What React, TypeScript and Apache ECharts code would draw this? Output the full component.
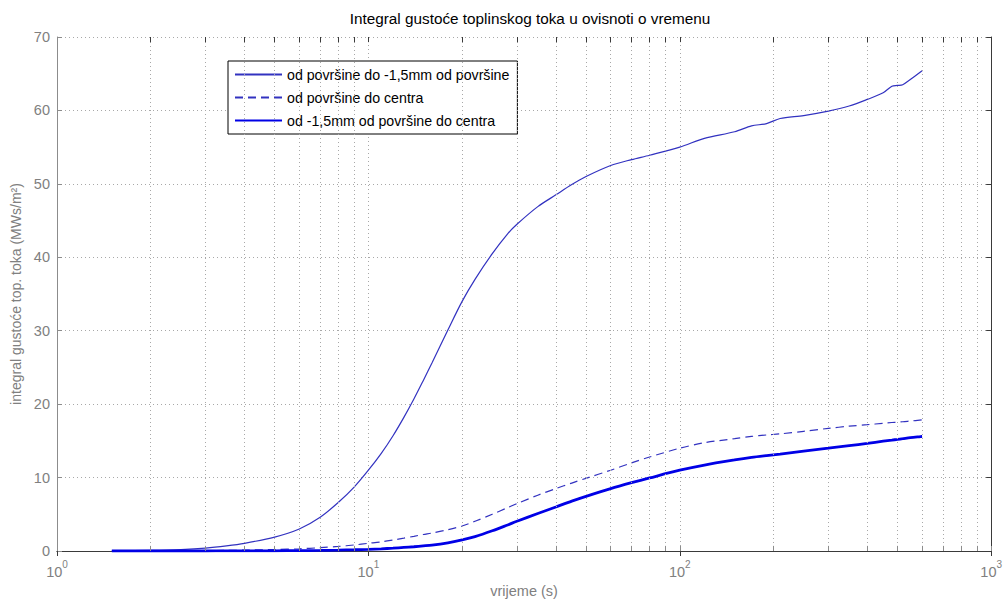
import React, { useEffect, useRef } from "react";
import * as echarts from "echarts";

const times = [1.5, 2, 2.5, 3, 3.5, 4, 5, 6, 7, 8, 9, 10, 11, 12, 13, 14, 15, 16, 18, 20, 22, 25, 28, 30, 35, 40, 45, 50, 60, 70, 80, 100, 120, 150, 170, 190, 210, 250, 300, 350, 400, 450, 480, 500, 520, 550, 600];

const surfaceTo15 = [0.0, 0.08, 0.2, 0.4, 0.7, 1.05, 1.9, 3.0, 4.6, 6.6, 8.7, 11.0, 13.3, 15.7, 18.2, 20.7, 23.2, 25.6, 30.1, 34.0, 37.0, 40.5, 43.2, 44.5, 46.9, 48.5, 49.9, 51.0, 52.5, 53.3, 53.9, 55.0, 56.2, 57.1, 57.9, 58.2, 58.9, 59.3, 59.9, 60.6, 61.5, 62.4, 63.3, 63.4, 63.5, 64.2, 65.4];

const surfaceToCenter = [0.0, 0.0, 0.02, 0.05, 0.08, 0.12, 0.2, 0.3, 0.45, 0.62, 0.82, 1.05, 1.25, 1.5, 1.75, 2.0, 2.25, 2.45, 2.9, 3.4, 4.05, 5.0, 5.9, 6.45, 7.6, 8.5, 9.25, 9.9, 11.0, 12.0, 12.8, 14.0, 14.75, 15.3, 15.6, 15.8, 15.95, 16.3, 16.7, 17.0, 17.2, 17.4, 17.5, 17.55, 17.6, 17.7, 17.85];

const from15ToCenter = [0.0, 0.0, 0.0, 0.0, 0.01, 0.02, 0.03, 0.05, 0.08, 0.12, 0.17, 0.23, 0.3, 0.38, 0.48, 0.58, 0.69, 0.8, 1.12, 1.5, 1.95, 2.75, 3.55, 4.05, 5.1, 6.0, 6.8, 7.45, 8.5, 9.3, 9.95, 11.0, 11.7, 12.4, 12.75, 13.0, 13.2, 13.6, 14.0, 14.35, 14.65, 14.95, 15.1, 15.2, 15.3, 15.45, 15.6];

const seriesNames = [
  "od površine do -1,5mm od površine",
  "od površine do centra",
  "od -1,5mm od površine do centra",
];

const minorGridX = [2, 3, 4, 5, 6, 7, 8, 9, 20, 30, 40, 50, 60, 70, 80, 90, 200, 300, 400, 500, 600, 700, 800, 900];
const majorX = [10, 100];
const xMin = 1;
const xMax = 1000;
const yMin = 0;
const yMax = 70;
const yStep = 10;
const tickLenY = 0.7;

const titleText = "Integral gustoće toplinskog toka u ovisnoti o vremenu";
const xName = "vrijeme (s)";
const yName = "integral gustoće top. toka (MWs/m²)";

const LABEL_GRAY = "#808080";
const AXIS_DARK = "#3a3a3a";
const AXIS_GRAY = "#8c8c8c";
const GRID_GRAY = "#a8a8a8";
const FONT = "Arial, Liberation Sans, sans-serif";

export default function App() {
  const ref = useRef<HTMLDivElement>(null);
  useEffect(() => {
    if (!ref.current) return;
    const chart = echarts.init(ref.current, undefined, { renderer: "svg" });
    const pair = (arr: number[]) => times.map((t, i) => [t, arr[i]]);
    const allTickX = [...minorGridX, ...majorX];
    const option: any = {
      animation: false,
      backgroundColor: "#fff",
      textStyle: { fontFamily: FONT },
      title: {
        text: titleText,
        left: 525,
        top: 6,
        textAlign: "center",
        textStyle: { fontSize: 15.3, fontWeight: "normal", color: "#000", fontFamily: FONT },
      },
      legend: {
        orient: "vertical",
        left: 228,
        top: 61,
        backgroundColor: "#fff",
        borderColor: "#000",
        borderWidth: 1,
        borderRadius: 0,
        padding: [5, 8, 5, 6],
        itemGap: 6,
        itemWidth: 47,
        itemHeight: 17,
        itemStyle: { opacity: 0 },
        textStyle: { fontSize: 14.2, color: "#000", lineHeight: 17 },
        data: seriesNames,
      },
      grid: { left: 57, right: 12, top: 37, bottom: 53, containLabel: false },
      xAxis: [
        {
          type: "log",
          logBase: 10,
          min: xMin,
          max: xMax,
          position: "bottom",
          name: xName,
          nameLocation: "middle",
          nameGap: 31,
          nameTextStyle: { fontSize: 14.5, color: LABEL_GRAY },
          axisLine: { show: true, lineStyle: { color: AXIS_GRAY, width: 1 } },
          axisTick: { show: true, inside: true, length: 5, lineStyle: { color: AXIS_GRAY } },
          axisLabel: {
            margin: 8,
            formatter: (v: number) => "{b|10}{e|" + Math.round(Math.log10(v)) + "}",
            rich: {
              b: { fontSize: 14.5, color: LABEL_GRAY, lineHeight: 20, verticalAlign: "bottom" },
              e: { fontSize: 10, color: LABEL_GRAY, lineHeight: 20, verticalAlign: "top" },
            },
          },
          splitLine: { show: true, lineStyle: { color: GRID_GRAY, type: [1, 3], width: 1 } },
        },
        {
          type: "log",
          logBase: 10,
          min: xMin,
          max: xMax,
          position: "top",
          axisLine: { show: true, lineStyle: { color: AXIS_DARK, width: 1 } },
          axisTick: { show: true, inside: true, length: 5, lineStyle: { color: AXIS_DARK } },
          axisLabel: { show: false },
          splitLine: { show: false },
        },
      ],
      yAxis: [
        {
          type: "value",
          min: yMin,
          max: yMax,
          interval: yStep,
          position: "left",
          name: yName,
          nameLocation: "middle",
          nameGap: 32,
          nameTextStyle: { fontSize: 14, color: LABEL_GRAY },
          axisLine: { show: true, lineStyle: { color: AXIS_GRAY, width: 1 } },
          axisTick: { show: true, inside: true, length: 5, lineStyle: { color: AXIS_GRAY } },
          axisLabel: { fontSize: 14.5, color: LABEL_GRAY, margin: 7 },
          splitLine: { show: true, lineStyle: { color: GRID_GRAY, type: [1, 3], width: 1 } },
        },
        {
          type: "value",
          min: yMin,
          max: yMax,
          interval: yStep,
          position: "right",
          axisLine: { show: true, lineStyle: { color: AXIS_DARK, width: 1 } },
          axisTick: { show: true, inside: true, length: 5, lineStyle: { color: AXIS_DARK } },
          axisLabel: { show: false },
          splitLine: { show: false },
        },
      ],
      series: [
        {
          type: "line",
          name: "grid",
          data: [[xMin, yMin]],
          showSymbol: false,
          symbol: "none",
          silent: true,
          z: 1,
          lineStyle: { opacity: 0 },
          markLine: {
            silent: true,
            symbol: "none",
            animation: false,
            label: { show: false },
            lineStyle: { color: GRID_GRAY, type: [1, 3], width: 1 },
            data: [
              ...minorGridX.map((x) => ({ xAxis: x })),
              ...allTickX.map((x) => [
                { coord: [x, yMin], lineStyle: { color: AXIS_GRAY, type: "solid" } },
                { coord: [x, yMin + tickLenY] },
              ]),
              ...allTickX.map((x) => [
                { coord: [x, yMax], lineStyle: { color: AXIS_DARK, type: "solid" } },
                { coord: [x, yMax - tickLenY] },
              ]),
            ],
          },
        },
        {
          type: "line",
          name: seriesNames[0],
          data: pair(surfaceTo15),
          showSymbol: false,
          symbol: "none",
          smooth: 0.3,
          z: 3,
          color: "#3232c0",
          lineStyle: { color: "#3232c0", width: 1.2, type: "solid" },
        },
        {
          type: "line",
          name: seriesNames[1],
          data: pair(surfaceToCenter),
          showSymbol: false,
          symbol: "none",
          smooth: 0.3,
          z: 3,
          color: "#3232c0",
          lineStyle: { color: "#3232c0", width: 1.2, type: [8, 5] },
        },
        {
          type: "line",
          name: seriesNames[2],
          data: pair(from15ToCenter),
          showSymbol: false,
          symbol: "none",
          smooth: 0.3,
          z: 4,
          color: "#0000e6",
          lineStyle: { color: "#0000e6", width: 2.8, type: "solid" },
        },
      ],
    };
    chart.setOption(option);
    return () => chart.dispose();
  }, []);
  return <div ref={ref} style={{ width: 1005, height: 604, position: "absolute", left: 0, top: 0 }} />;
}
